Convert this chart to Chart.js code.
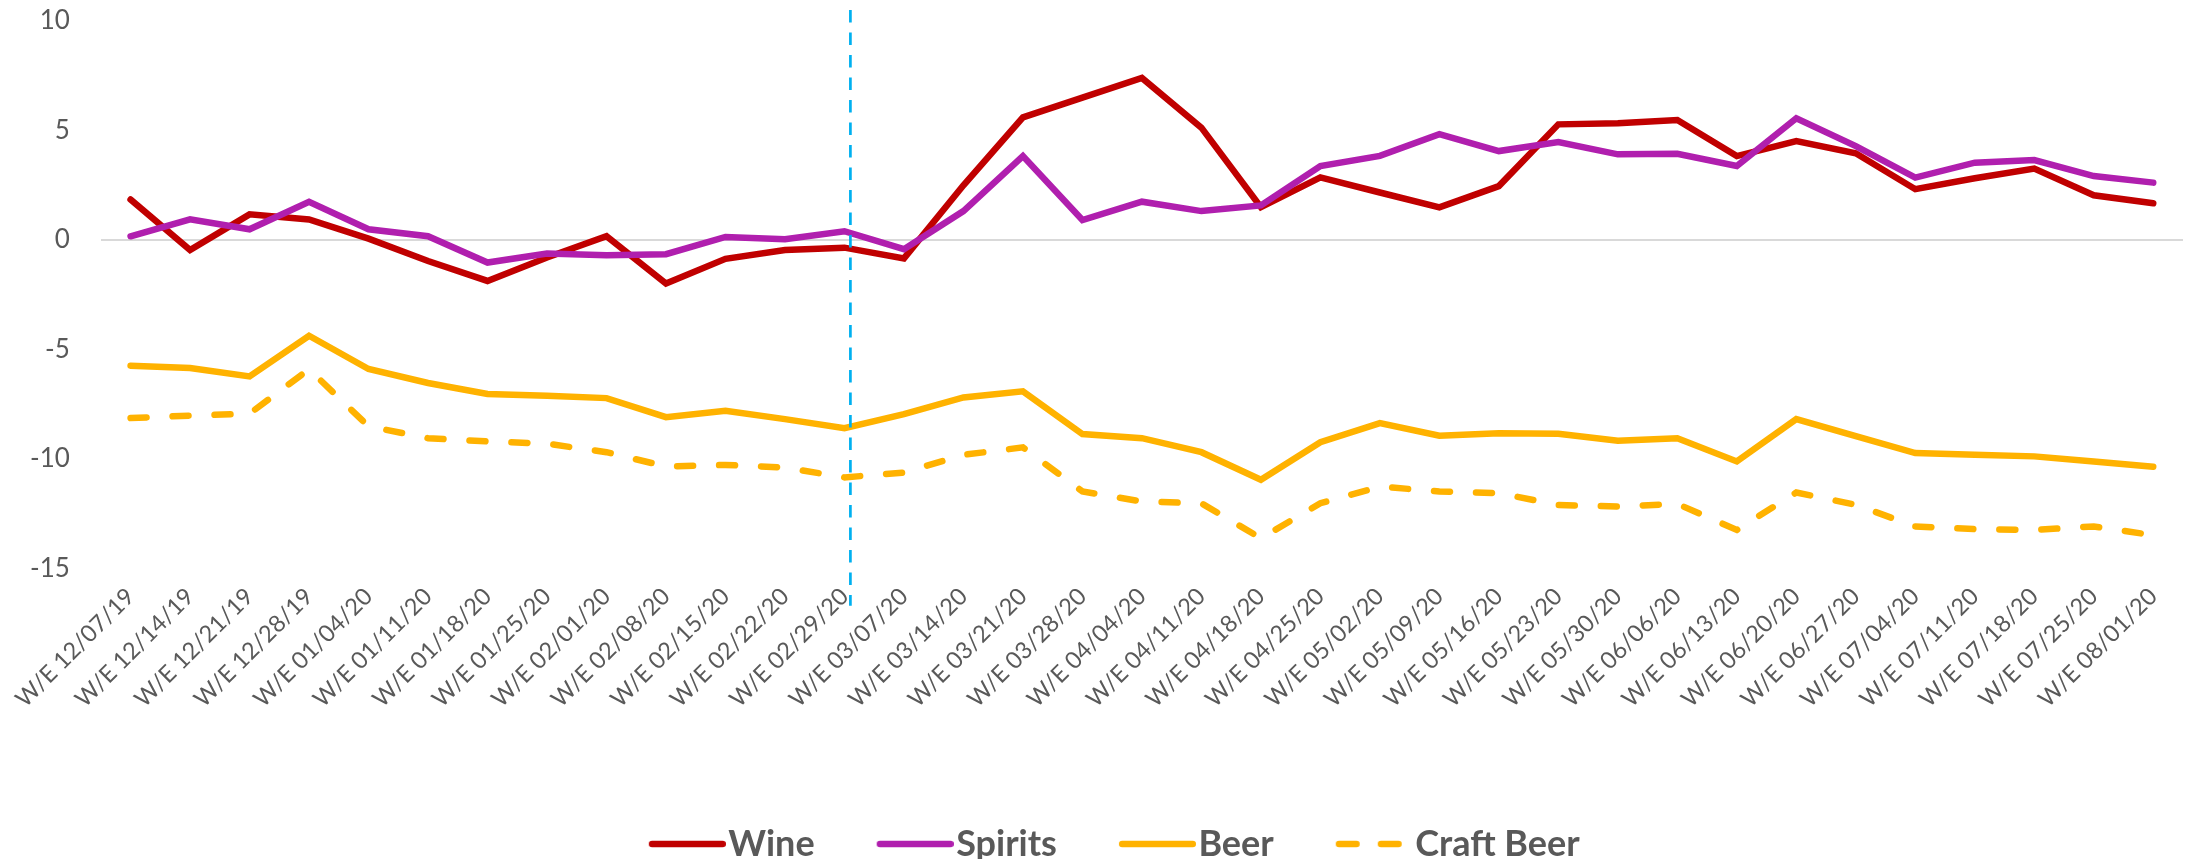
<!DOCTYPE html>
<html>
<head>
<meta charset="utf-8">
<script src="https://cdn.jsdelivr.net/npm/chart.js@4.4.1/dist/chart.umd.min.js"></script>
<style>
  html, body { margin: 0; padding: 0; background: #fff; }
  #wrap { width: 2191px; height: 859px; position: relative; }
</style>
</head>
<body>
<div id="wrap"><canvas id="salesChart"></canvas></div>
<script>
// week-ending labels
const weeks = [
  'W/E 12/07/19', 'W/E 12/14/19', 'W/E 12/21/19', 'W/E 12/28/19', 'W/E 01/04/20',
  'W/E 01/11/20', 'W/E 01/18/20', 'W/E 01/25/20', 'W/E 02/01/20', 'W/E 02/08/20',
  'W/E 02/15/20', 'W/E 02/22/20', 'W/E 02/29/20', 'W/E 03/07/20', 'W/E 03/14/20',
  'W/E 03/21/20', 'W/E 03/28/20', 'W/E 04/04/20', 'W/E 04/11/20', 'W/E 04/18/20',
  'W/E 04/25/20', 'W/E 05/02/20', 'W/E 05/09/20', 'W/E 05/16/20', 'W/E 05/23/20',
  'W/E 05/30/20', 'W/E 06/06/20', 'W/E 06/13/20', 'W/E 06/20/20', 'W/E 06/27/20',
  'W/E 07/04/20', 'W/E 07/11/20', 'W/E 07/18/20', 'W/E 07/25/20', 'W/E 08/01/20'
];

const wine = [
  1.85, -0.46, 1.17, 0.94, 0.06, -0.96, -1.87, -0.8, 0.17, -1.99,
  -0.86, -0.46, -0.35, -0.84, 2.5, 5.6, 6.5, 7.4, 5.13, 1.5,
  2.86, 2.17, 1.49, 2.46, 5.28, 5.33, 5.48, 3.83, 4.52, 3.96,
  2.32, 2.82, 3.26, 2.04, 1.68
];

const spirits = [
  0.17, 0.94, 0.49, 1.74, 0.49, 0.17, -1.03, -0.62, -0.7, -0.65,
  0.14, 0.03, 0.4, -0.42, 1.32, 3.83, 0.91, 1.75, 1.32, 1.58,
  3.38, 3.84, 4.83, 4.06, 4.47, 3.91, 3.94, 3.38, 5.56, 4.29,
  2.85, 3.53, 3.65, 2.92, 2.62
];

const beer = [
  -5.74, -5.85, -6.23, -4.37, -5.89, -6.53, -7.03, -7.11, -7.22, -8.09,
  -7.8, -8.18, -8.59, -7.95, -7.19, -6.91, -8.86, -9.05, -9.69, -10.95,
  -9.23, -8.36, -8.94, -8.82, -8.85, -9.17, -9.05, -10.11, -8.18, -8.95,
  -9.73, -9.81, -9.88, -10.11, -10.35
];

const craftBeer = [
  -8.13, -8.02, -7.93, -5.9, -8.51, -9.05, -9.2, -9.3, -9.69, -10.34,
  -10.27, -10.39, -10.84, -10.62, -9.81, -9.47, -11.48, -11.94, -12.02, -13.62,
  -12.02, -11.26, -11.48, -11.56, -12.1, -12.17, -12.05, -13.24, -11.53, -12.09,
  -13.08, -13.2, -13.24, -13.08, -13.48
];

const yTicks = [-15, -10, -5, 0, 5, 10];

// blue dashed marker just after W/E 02/29/20
const MARKER_INDEX = 12.1;
const MARKER_TOP = 10.5;
const MARKER_BOTTOM = -16.7;

const GREY = '#595959';
const NONE = 'rgba(0,0,0,0)';
const LINE_W = 6.5;

const markerLine = {
  id: 'markerLine',
  afterDatasetsDraw(chart) {
    const { ctx, scales: { x, y } } = chart;
    const px = x.getPixelForValue(MARKER_INDEX);
    ctx.save();
    ctx.strokeStyle = '#00B0F0';
    ctx.lineWidth = 2.7;
    ctx.setLineDash([12.5, 10]);
    ctx.beginPath();
    ctx.moveTo(px, y.getPixelForValue(MARKER_TOP));
    ctx.lineTo(px, y.getPixelForValue(MARKER_BOTTOM));
    ctx.stroke();
    ctx.restore();
  }
};

// legend swatch: line sits in the right part of the image so the label hugs it
function legendIcon(color, dash) {
  const c = document.createElement('canvas');
  c.width = 108;
  c.height = 12;
  const g = c.getContext('2d');
  g.strokeStyle = color;
  g.lineWidth = LINE_W;
  g.lineCap = 'round';
  if (dash) g.setLineDash([17.5, 24.5]);
  g.beginPath();
  g.moveTo(31 + LINE_W / 2, 6);
  g.lineTo(108 - LINE_W / 2, 6);
  g.stroke();
  return c;
}

function lineSet(label, data, color, order, dash) {
  return {
    label: label,
    data: data,
    borderColor: color,
    backgroundColor: color,
    borderWidth: LINE_W,
    borderCapStyle: 'round',
    borderDash: dash || [],
    pointRadius: 0,
    pointHoverRadius: 0,
    tension: 0,
    order: order
  };
}

const datasets = [
  lineSet('Wine', wine, '#C00000', 2),
  lineSet('Spirits', spirits, '#B01FAE', 1),
  lineSet('Beer', beer, '#FFB200', 3),
  lineSet('Craft Beer', craftBeer, '#FFB200', 4, [16, 26])
];
const legendIcons = datasets.map(d => legendIcon(d.borderColor, d.borderDash.length > 0));

new Chart(document.getElementById('salesChart'), {
  type: 'line',
  data: {
    labels: weeks,
    datasets: datasets
  },
  options: {
    responsive: true,
    maintainAspectRatio: false,
    animation: false,
    layout: {
      padding: { left: 30, right: 8, top: 21, bottom: -13 }
    },
    plugins: {
      tooltip: { enabled: false },
      legend: {
        display: true,
        position: 'bottom',
        labels: {
          usePointStyle: true,
          pointStyleWidth: 77,
          boxHeight: 20,
          padding: 46.5,
          color: GREY,
          font: { family: 'Lato', size: 36, weight: 'bold' },
          sort: (a, b) => a.datasetIndex - b.datasetIndex,
          generateLabels(chart) {
            const items = Chart.defaults.plugins.legend.labels.generateLabels(chart);
            items.forEach(it => { it.pointStyle = legendIcons[it.datasetIndex]; });
            return items;
          }
        }
      }
    },
    scales: {
      x: {
        offset: true,
        grid: { display: false, drawTicks: true, tickLength: 14, tickColor: NONE },
        border: { display: false },
        afterFit: (scale) => { scale.height = 211; },
        ticks: {
          autoSkip: false,
          minRotation: 45,
          maxRotation: 45,
          padding: 0,
          color: GREY,
          font: { family: 'Lato', size: 23.5 }
        }
      },
      y: {
        min: -15,
        max: 10,
        afterBuildTicks: (axis) => {
          axis.ticks = yTicks.map(v => ({ value: v }));
        },
        grid: {
          drawTicks: true,
          tickLength: 31,
          tickColor: NONE,
          lineWidth: 2,
          color: (c) => (c.tick && c.tick.value === 0 ? '#D9D9D9' : NONE)
        },
        border: { display: false },
        ticks: {
          padding: 0,
          color: GREY,
          font: { family: 'Lato', size: 26 }
        }
      }
    }
  },
  plugins: [markerLine]
});
</script>
</body>
</html>
